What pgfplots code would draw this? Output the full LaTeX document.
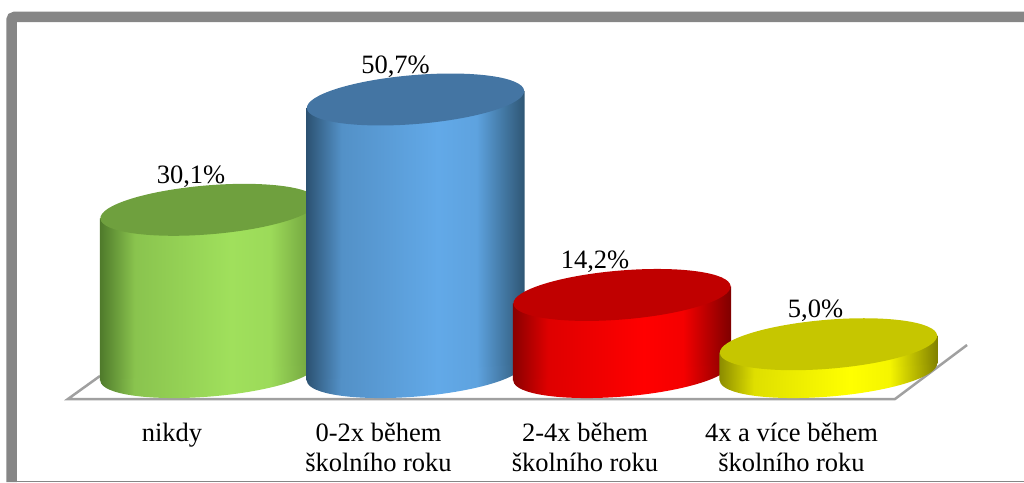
\documentclass[border=0pt]{standalone}
\usepackage{pgfplots}
\pgfplotsset{compat=1.18}
\usepackage{fontspec}
\setmainfont{Liberation Serif}

% shadings: the middle 25bp..75bp of each one fills the path
\newcommand{\cylshade}[5]{%
  \definecolor{#1L}{HTML}{#2}\definecolor{#1M}{HTML}{#3}\definecolor{#1R}{HTML}{#4}\definecolor{#1T}{HTML}{#5}%
  \pgfdeclarehorizontalshading{#1body}{100bp}{color(0bp)=(#1L); color(25bp)=(#1L); color(33bp)=(#1M!72!#1L); color(55bp)=(#1M); color(64bp)=(#1M!92!#1R); color(75bp)=(#1R); color(100bp)=(#1R)}%
  \pgfdeclareplotmark{#1bottom}{%
    \pgfpathellipse{\pgfpointorigin}{\pgfqpoint{108.6pt}{8.9pt}}{\pgfqpoint{-2pt}{24.4pt}}%
    \pgfshadepath{#1body}{0}\pgfusepath{discard}}%
}
\cylshade{grn}{4F7A2B}{A0E05C}{6B9A3A}{6FA03E}
\cylshade{blu}{2C5272}{62A9E8}{2E5674}{4475A3}
\cylshade{red}{8A0000}{FF0000}{7E0000}{C00000}
\cylshade{yel}{8C8C00}{FFFF00}{808000}{C6C600}

\pgfdeclareplotmark{cyltop}{%
  \pgfpathellipse{\pgfpointorigin}{\pgfqpoint{108.6pt}{8.9pt}}{\pgfqpoint{-2pt}{24.4pt}}%
  \pgfusepathqfill}

\definecolor{framegray}{HTML}{868686}
\definecolor{floorgray}{HTML}{A0A0A0}

\newcommand{\labelfont}{\fontsize{26.5}{30}\selectfont}

\pgfplotsset{
  body/.style={draw=none,shading=#1body,forget plot},
  bottom/.style={only marks,mark=#1bottom,forget plot},
  top/.style 2 args={only marks,mark=cyltop,mark options={fill=#1T,draw=none},
    nodes near coords,point meta=explicit symbolic,
    every node near coord/.append style={font=\labelfont,text=black,inner sep=0pt,
      anchor=center,xshift=#2,yshift=33pt}},
}

\begin{document}
\begin{tikzpicture}[x=1pt,y=1pt]
\useasboundingbox (0,-83) rectangle (1024,399);
% grey frame, cut off at the right and the bottom
\draw[framegray,line width=10.5pt,rounded corners=3pt] (11.5,-83) -- (11.5,382) -- (1024,382);
\draw[framegray,line width=1.2pt] (17,-82.3) -- (1024,-82.3);

\begin{axis}[
  at={(0,0)},anchor=south west,
  scale only axis,width=1024pt,height=399pt,
  xmin=-1.0121,xmax=3.9467,
  ymin=-5.229,ymax=69.28,
  clip=false,
  clip mode=individual,
  clip marker paths=true,
  axis line style={draw=none},
  major tick length=0pt,
  ytick=\empty,
  xtick={0,1,2,3},
  xticklabels={nikdy,{0-2x během\\školního roku},{2-4x během\\školního roku},{4x a více během\\školního roku}},
  x tick label style={font=\labelfont,align=center,inner sep=0pt,anchor=north,xshift=-37pt,yshift=-24pt},
]
% floor
\addplot[floorgray,line width=2.5pt,forget plot] coordinates {
  (-0.528,-0.934) (-0.683,-5.229) (3.322,-5.229) (3.671,4.855)
};

% nikdy
\addplot[bottom=grn] coordinates {(0,-0.2)};
\addplot[body=grn] coordinates {(-0.528,-1.787) (-0.528,28.513) (0.528,31.687) (0.528,1.387)} --cycle;
\addplot[top={grn}{-18pt}] coordinates {(0,30.1) [30,1\%]};

% 0-2x
\addplot[bottom=blu] coordinates {(1,-0.2)};
\addplot[body=blu] coordinates {(0.472,-1.787) (0.472,49.113) (1.528,52.287) (1.528,1.387)} --cycle;
\addplot[top={blu}{-20pt}] coordinates {(1,50.7) [50,7\%]};

% 2-4x
\addplot[bottom=red] coordinates {(2,-0.2)};
\addplot[body=red] coordinates {(1.472,-1.787) (1.472,12.613) (2.528,15.787) (2.528,1.387)} --cycle;
\addplot[top={red}{-27pt}] coordinates {(2,14.2) [14,2\%]};

% 4x a vice
\addplot[bottom=yel] coordinates {(3,-0.2)};
\addplot[body=yel] coordinates {(2.472,-1.787) (2.472,3.413) (3.528,6.587) (3.528,1.387)} --cycle;
\addplot[top={yel}{-13pt}] coordinates {(3,5.0) [5,0\%]};
\end{axis}
\end{tikzpicture}
\end{document}
